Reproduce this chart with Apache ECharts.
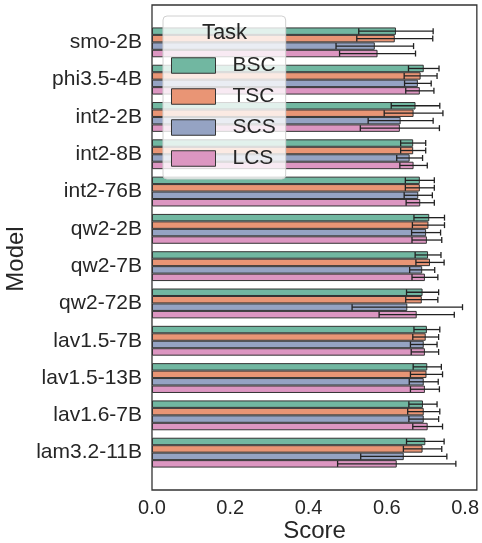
<!DOCTYPE html>
<html>
<head>
<meta charset="utf-8">
<script src="https://cdn.jsdelivr.net/npm/echarts@6/dist/echarts.min.js"></script>
<style>html,body{margin:0;padding:0;background:#fff;}#c{width:482px;height:543px;}</style>
</head>
<body>
<div id="c"></div>
<script>
const categories = ['smo-2B','phi3.5-4B','int2-2B','int2-8B','int2-76B','qw2-2B','qw2-7B','qw2-72B','lav1.5-7B','lav1.5-13B','lav1.6-7B','lam3.2-11B'];
const tasks = ['BSC','TSC','SCS','LCS'];
const BSC = [0.623,0.694,0.673,0.667,0.684,0.708,0.705,0.691,0.702,0.703,0.692,0.698];
const BSC_err = [0.095,0.039,0.062,0.032,0.037,0.039,0.033,0.041,0.033,0.036,0.036,0.048];
const TSC = [0.620,0.686,0.668,0.667,0.684,0.706,0.710,0.689,0.699,0.701,0.694,0.691];
const TSC_err = [0.097,0.042,0.075,0.032,0.037,0.041,0.036,0.041,0.033,0.041,0.041,0.049];
const SCS = [0.569,0.679,0.635,0.658,0.680,0.700,0.690,0.652,0.694,0.694,0.694,0.643];
const SCS_err = [0.099,0.034,0.083,0.033,0.036,0.037,0.032,0.141,0.034,0.037,0.038,0.110];
const LCS = [0.576,0.684,0.633,0.668,0.685,0.702,0.697,0.676,0.697,0.697,0.704,0.625];
const LCS_err = [0.097,0.036,0.101,0.035,0.036,0.038,0.033,0.096,0.035,0.037,0.038,0.151];
const xTicks = [0, 0.2, 0.4, 0.6, 0.8];

const values = [BSC, TSC, SCS, LCS];
const errs = [BSC_err, TSC_err, SCS_err, LCS_err];
const colors = ['#71b7a1', '#e99575', '#95a3c3', '#dc96c1'];
const FONT = 'Liberation Sans, Arial, sans-serif';
const XMAX = 0.83;

const chart = echarts.init(document.getElementById('c'), null, {renderer: 'canvas'});

const series = [];
tasks.forEach((t, k) => {
  series.push({
    name: t, type: 'bar', xAxisIndex: 1, yAxisIndex: 1,
    data: values[k],
    barGap: '0%', barCategoryGap: '20%',
    itemStyle: {color: colors[k], borderColor: '#333', borderWidth: 1},
    emphasis: {disabled: true},
    z: 2
  });
});
tasks.forEach((t, k) => {
  series.push({
    name: t + ' err', type: 'custom', xAxisIndex: 1, yAxisIndex: 1,
    data: values[k].map((v, i) => [v, i, errs[k][i]]),
    encode: {x: 0, y: 1},
    z: 3, silent: true,
    renderItem: function (params, api) {
      const val = api.value(0), cat = api.value(1), err = api.value(2);
      const c = api.coord([val, cat]);
      const band = api.size([0, 1])[1];
      const y = c[1] + (-0.4 + (k + 0.5) * 0.2) * band;
      const x1 = api.coord([val - err, cat])[0];
      const x2 = api.coord([val + err, cat])[0];
      const st = {stroke: '#222', lineWidth: 1.3};
      return {type: 'group', children: [
        {type: 'line', shape: {x1: x1, y1: y, x2: x2, y2: y}, style: st},
        {type: 'line', shape: {x1: x1, y1: y - 3, x2: x1, y2: y + 3}, style: st},
        {type: 'line', shape: {x1: x2, y1: y - 3, x2: x2, y2: y + 3}, style: st}
      ]};
    }
  });
});

const option = {
  animation: false,
  backgroundColor: '#fff',
  textStyle: {fontFamily: FONT},
  grid: [
    {left: 152, right: 5, top: 5, bottom: 53, show: true, borderColor: '#333', borderWidth: 1.3, backgroundColor: 'transparent', z: 5},
    {left: 152, right: 5, top: 23.7, bottom: 71.7}
  ],
  xAxis: [
    {gridIndex: 0, type: 'value', min: 0, max: XMAX, interval: 0.2,
     axisLine: {show: false}, axisTick: {show: false}, splitLine: {show: false},
     axisLabel: {fontSize: 20, color: '#262626', margin: 8, fontFamily: FONT,
       formatter: v => { const i = xTicks.findIndex(t => Math.abs(t - v) < 1e-6); return i >= 0 ? xTicks[i].toFixed(1) : ''; }}},
    {gridIndex: 1, type: 'value', min: 0, max: XMAX, show: false}
  ],
  yAxis: [
    {gridIndex: 0, type: 'value', min: 0, max: 1, axisLine: {show: false}, axisTick: {show: false},
     axisLabel: {show: false}, splitLine: {show: false}},
    {gridIndex: 1, type: 'category', data: categories, inverse: true,
     axisLine: {show: false}, axisTick: {show: false}, splitLine: {show: false},
     axisLabel: {fontSize: 21, color: '#262626', margin: 10, fontFamily: FONT}}
  ],
  legend: {
    data: tasks, orient: 'vertical', left: 163, top: 16,
    padding: [39, 10, 10, 8], itemGap: 10, itemWidth: 44, itemHeight: 15.5,
    backgroundColor: 'rgba(255,255,255,0.8)', borderColor: '#d0d0d0', borderWidth: 1, borderRadius: 4,
    icon: 'rect',
    itemStyle: {borderColor: '#333', borderWidth: 1},
    textStyle: {fontSize: 21, color: '#262626', fontFamily: FONT, padding: [0, 0, 0, 12]},
    selectedMode: false, z: 10
  },
  graphic: [
    {type: 'text', x: 224.5, y: 33, z: 100,
     style: {text: 'Task', fontSize: 22, fill: '#262626', fontFamily: FONT, align: 'center', verticalAlign: 'middle'}},
    {type: 'text', x: 16.5, y: 259, rotation: Math.PI / 2, z: 100,
     style: {text: 'Model', fontSize: 24, fill: '#262626', fontFamily: FONT, align: 'center', verticalAlign: 'middle'}},
    {type: 'text', x: 314.5, y: 531.5, z: 100,
     style: {text: 'Score', fontSize: 24, fill: '#262626', fontFamily: FONT, align: 'center', verticalAlign: 'middle'}}
  ],
  series: series
};
chart.setOption(option);
</script>
</body>
</html>
